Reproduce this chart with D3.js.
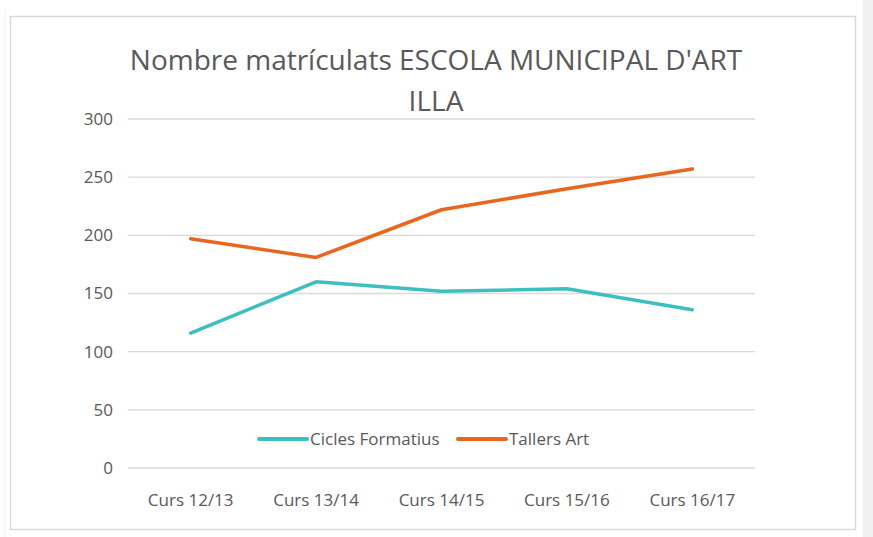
<!DOCTYPE html>
<html>
<head>
<script src="https://d3js.org/d3.v7.min.js"></script>
<style>
	body, html {
		margin: 0;
		padding: 0;
		background: #fff;
		font-family: "Open Sans", sans-serif;
	}
	.grid line { stroke: #d9d9d9; stroke-width: 1.3; }
	.axis text { fill: #595959; font-size: 17px; font-family: "Open Sans", sans-serif; }
	.title { fill: #595959; font-size: 28px; text-anchor: middle; }
	.legend text { fill: #595959; font-size: 17px; }
	.series { fill: none; stroke-width: 3.5; stroke-linejoin: round; stroke-linecap: round; }
</style>
</head>
<body>
<script>
	var categories = ["Curs 12/13", "Curs 13/14", "Curs 14/15", "Curs 15/16", "Curs 16/17"];
	var ciclesValues = [116, 160, 152, 154, 136];
	var tallersValues = [197, 181, 222, 240, 257];
	var yTicks = [0, 50, 100, 150, 200, 250, 300];
	var seriesNames = ["Cicles Formatius", "Tallers Art"];
	var seriesColors = ["#3dbfbf", "#e9661f"];

	var w = 873, h = 537;
	var margin = {top: 119, bottom: 69, left: 128, right: 118};

	var svg = d3.select("body").append("svg")
		.attr("width", w)
		.attr("height", h);

	// page surround
	svg.append("rect").attr("x", 863).attr("y", 0).attr("width", 10).attr("height", h).style("fill", "#f0f0f0");
	svg.append("line").attr("x1", 5).attr("x2", 5).attr("y1", 10).attr("y2", h).style("stroke", "#f0f0f0");
	svg.append("rect")
		.attr("x", 10.5).attr("y", 16.5).attr("width", 845).attr("height", 513)
		.style("fill", "#fff").style("stroke", "#d9d9d9").style("stroke-width", 1.5);

	var x = d3.scaleBand()
		.domain(categories)
		.range([margin.left, w - margin.right]);

	var y = d3.scaleLinear()
		.domain([0, 300])
		.range([h - margin.bottom, margin.top]);

	svg.append("g").attr("class", "grid")
		.selectAll("line").data(yTicks).enter()
		.append("line")
		.attr("x1", margin.left).attr("x2", w - margin.right)
		.attr("y1", function(d){ return y(d); })
		.attr("y2", function(d){ return y(d); });

	var yAxis = d3.axisLeft(y).tickValues(yTicks).tickSize(0).tickPadding(15);
	svg.append("g").attr("class", "axis")
		.attr("transform", "translate(" + margin.left + ",0)")
		.call(yAxis)
		.call(function(g){ g.select(".domain").remove(); });

	var xAxis = d3.axisBottom(x).tickSize(0).tickPadding(26);
	svg.append("g").attr("class", "axis")
		.attr("transform", "translate(0," + (h - margin.bottom) + ")")
		.call(xAxis)
		.call(function(g){ g.select(".domain").remove(); });

	svg.append("text").attr("class", "title").attr("x", 436).attr("y", 70).text("Nombre matrículats ESCOLA MUNICIPAL D'ART");
	svg.append("text").attr("class", "title").attr("x", 436).attr("y", 111).text("ILLA");

	var line = d3.line()
		.x(function(d, i){ return x(categories[i]) + x.bandwidth() / 2; })
		.y(function(d){ return y(d); });

	var allSeries = [ciclesValues, tallersValues];
	svg.selectAll(".series").data(allSeries).enter()
		.append("path")
		.attr("class", "series")
		.attr("d", line)
		.style("stroke", function(d, i){ return seriesColors[i]; });

	var legend = svg.append("g").attr("class", "legend");
	var legendX = [259, 458];
	seriesNames.forEach(function(name, i){
		legend.append("line")
			.attr("x1", legendX[i]).attr("x2", legendX[i] + 48)
			.attr("y1", 439).attr("y2", 439)
			.style("stroke", seriesColors[i]).style("stroke-width", 4).style("stroke-linecap", "round");
		legend.append("text")
			.attr("x", legendX[i] + 51).attr("y", 445)
			.text(name);
	});
</script>
</body>
</html>
